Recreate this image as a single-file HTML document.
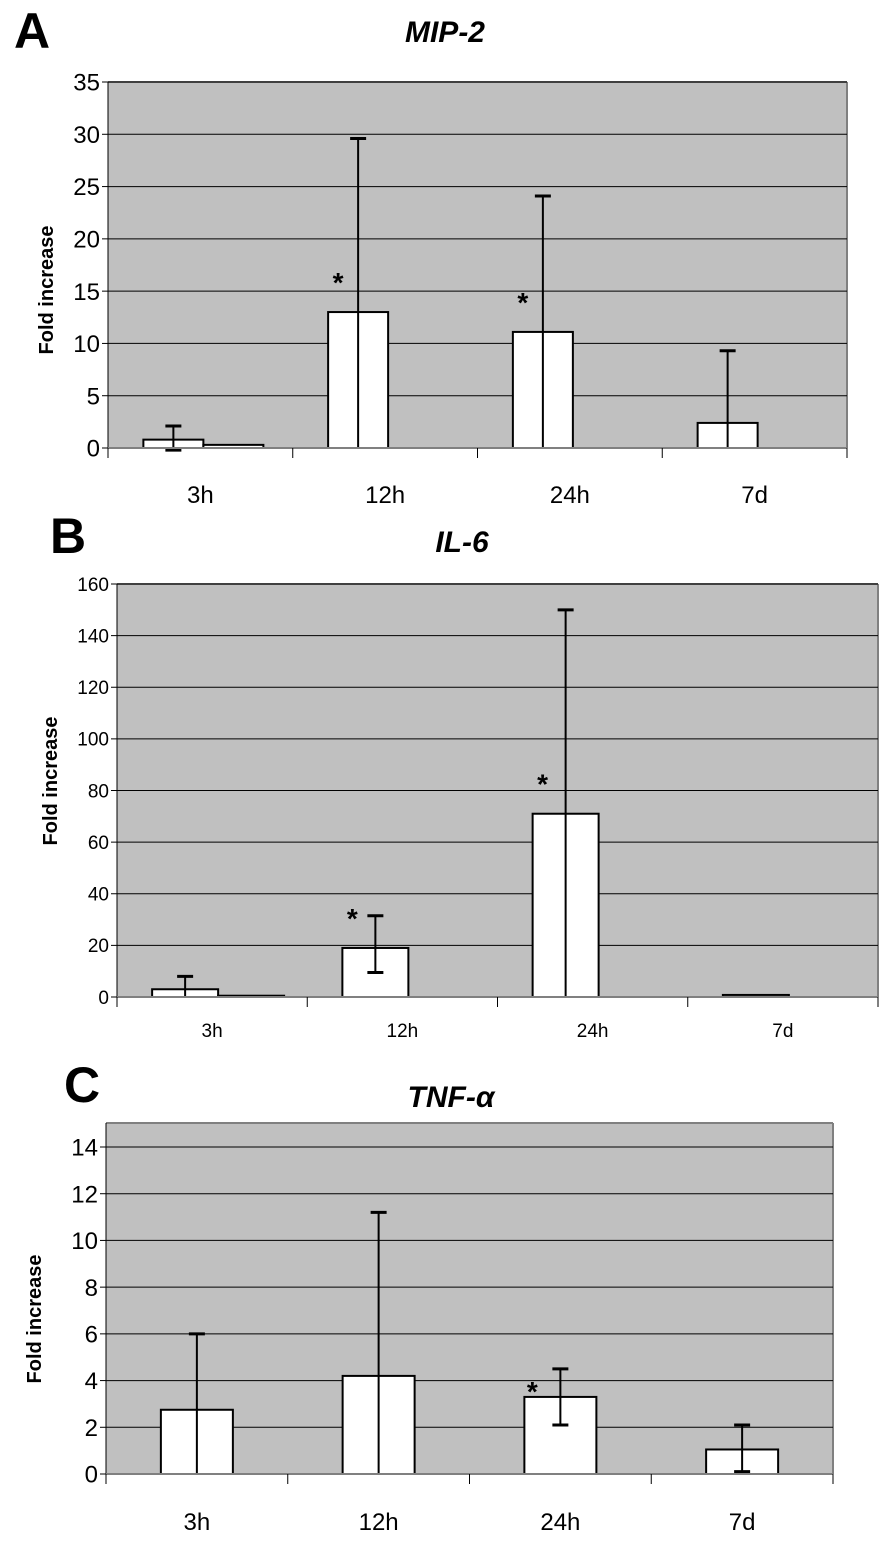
<!DOCTYPE html>
<html><head><meta charset="utf-8">
<style>
html,body{margin:0;padding:0;background:#fff;}
svg{display:block;font-family:"Liberation Sans Narrow","Liberation Sans",sans-serif;}
</style></head>
<body>
<svg id="fig" width="880" height="1547" viewBox="0 0 880 1547" xmlns="http://www.w3.org/2000/svg"></svg>
<script>
const categories = ["3h","12h","24h","7d"];
// Panel A: MIP-2
const mipValues = [0.8, 13, 11.1, 2.4];
const mipErrUp = [2.1, 29.6, 24.1, 9.3];
const mipErrLow = [-0.2, null, null, null];
const mipSecond = [0.3, 0, 0, 0];
const mipStars = [false, true, true, false];
const mipTicks = [0,5,10,15,20,25,30,35];
// Panel B: IL-6
const il6Values = [3, 19, 71, 0];
const il6ErrUp = [8, 31.5, 150, null];
const il6ErrLow = [null, 9.5, null, null];
const il6Second = [0.5, 0, 0, 0.8];
const il6Stars = [false, true, true, false];
const il6Ticks = [0,20,40,60,80,100,120,140,160];
// Panel C: TNF-alpha
const tnfValues = [2.75, 4.2, 3.3, 1.05];
const tnfErrUp = [6.0, 11.2, 4.5, 2.1];
const tnfErrLow = [null, null, 2.1, 0.1];
const tnfSecond = [0, 0, 0, 0];
const tnfStars = [false, false, true, false];
const tnfTicks = [0,2,4,6,8,10,12,14];

const NS = "http://www.w3.org/2000/svg";
const svg = document.getElementById("fig");
function mk(tag, attrs, parent, text){
  const e = document.createElementNS(NS, tag);
  for (const k in attrs) e.setAttribute(k, attrs[k]);
  if (text !== undefined) e.textContent = text;
  (parent || svg).appendChild(e);
  return e;
}

function panel(cfg){
  const g = mk("g", {});
  
  
  const y = v => cfg.y0 - (v / cfg.ymax) * (cfg.y0 - cfg.yTop);
  const plotTop = cfg.plotTop;
  const bg = mk("rect", {x:cfg.left, y:plotTop, width:cfg.right-cfg.left, height:cfg.y0-plotTop, fill:"#c0c0c0"}, g);
  
  
  mk("line", {x1:cfg.left, y1:plotTop, x2:cfg.right, y2:plotTop, stroke:"#808080", "stroke-width":2}, g);
  mk("line", {x1:cfg.right, y1:plotTop, x2:cfg.right, y2:cfg.y0, stroke:"#808080", "stroke-width":2}, g);
  cfg.ticks.forEach(t => {
    const yy = y(t);
    if (t > 0) {
      const gl = mk("line", {x1:cfg.left, y1:yy, x2:cfg.right, y2:yy, stroke:"#000", "stroke-width":1}, g);
      
      
    }
    mk("line", {x1:cfg.left-6, y1:yy, x2:cfg.left, y2:yy, stroke:"#000", "stroke-width":1}, g);
    const tl = mk("text", {x:cfg.left-8, y:yy+cfg.tickFs*0.36, "text-anchor":"end", "font-size":cfg.tickFs, fill:"#000"}, g, String(t));
    
    
  });
  const step = (cfg.right - cfg.left) / categories.length;
  categories.forEach((c, i) => {
    const cx = cfg.left + step * (i + 0.5);
    const bx = cx + cfg.barOff;
    const v = cfg.values[i];
    if (v > 0) {
      const b = mk("rect", {x:bx, y:y(v), width:cfg.barW, height:cfg.y0-y(v), fill:"#fff", stroke:"#000", "stroke-width":2}, g);
      
      
    }
    const s2 = cfg.second[i];
    if (s2 > 0) {
      const x2 = (v > 0) ? bx + cfg.barW : bx;
      const b2 = mk("rect", {x:x2, y:y(s2), width:cfg.barW, height:Math.max(cfg.y0-y(s2),1), fill:"#fff", stroke:"#000", "stroke-width":2}, g);
      
      
    }
    const ex = bx + cfg.barW / 2;
    if (cfg.errUp[i] != null) {
      const lo = cfg.errLow[i] != null ? cfg.errLow[i] : 0;
      const el = mk("line", {x1:ex, y1:y(cfg.errUp[i]), x2:ex, y2:y(lo), stroke:"#000", "stroke-width":2}, g);
      
      
      mk("line", {x1:ex-8, y1:y(cfg.errUp[i]), x2:ex+8, y2:y(cfg.errUp[i]), stroke:"#000", "stroke-width":3}, g);
      if (cfg.errLow[i] != null) mk("line", {x1:ex-8, y1:y(lo), x2:ex+8, y2:y(lo), stroke:"#000", "stroke-width":3}, g);
    }
    if (cfg.stars[i]) {
      const st = mk("text", {x:bx + cfg.starDx, y:y(v) - cfg.starGap, "text-anchor":"middle", "font-size":28, "font-weight":"bold", "font-family":"Liberation Sans, sans-serif", fill:"#000"}, g, "*");
      
      
    }
    const xl = mk("text", {x:cx, y:cfg.xLabelY, "text-anchor":"middle", "font-size":cfg.xFs, fill:"#000"}, g, c);
    
    
  });
  mk("line", {x1:cfg.left, y1:plotTop, x2:cfg.left, y2:cfg.y0, stroke:"#000", "stroke-width":1}, g);
  mk("line", {x1:cfg.left, y1:cfg.y0, x2:cfg.right, y2:cfg.y0, stroke:"#808080", "stroke-width":2}, g);
  for (let k = 0; k <= categories.length; k++) {
    const xx = cfg.left + step * k;
    mk("line", {x1:xx, y1:cfg.y0, x2:xx, y2:cfg.y0+10, stroke:"#000", "stroke-width":1}, g);
  }
  const yt = mk("text", {x:0, y:0, transform:`translate(${cfg.yTitleX},${cfg.yTitleY}) rotate(-90)`, "text-anchor":"middle", "font-size":20, "font-weight":"bold", "font-family":"Liberation Sans, sans-serif", fill:"#000"}, g, "Fold increase");
  
  
  const tt = mk("text", {x:cfg.titleX, y:cfg.titleY, "text-anchor":"middle", "font-size":30, "font-weight":"bold", "font-style":"italic", fill:"#000"}, g, cfg.title);
  
  
  const pl = mk("text", {x:cfg.letterX, y:cfg.letterY, "font-size":50, "font-weight":"bold", "font-family":"Liberation Sans, sans-serif", fill:"#000"}, g, cfg.letter);
  
  
}

panel({name:"panel-a-mip2", title:"MIP-2", letter:"A", letterX:14, letterY:48, titleX:445, titleY:42,
  left:108, right:847, y0:448, yTop:82, ymax:35, plotTop:82, ticks:mipTicks, tickFs:24,
  values:mipValues, errUp:mipErrUp, errLow:mipErrLow, second:mipSecond, stars:mipStars,
  barW:60, barOff:-57, starDx:10, starGap:20, xLabelY:503, xFs:24, yTitleX:53, yTitleY:290});
panel({name:"panel-b-il6", title:"IL-6", letter:"B", letterX:50, letterY:553, titleX:462, titleY:552,
  left:117, right:878, y0:997, yTop:584, ymax:160, plotTop:584, ticks:il6Ticks, tickFs:19,
  values:il6Values, errUp:il6ErrUp, errLow:il6ErrLow, second:il6Second, stars:il6Stars,
  barW:66, barOff:-60, starDx:10, starGap:20, xLabelY:1037, xFs:19, yTitleX:57, yTitleY:781});
panel({name:"panel-c-tnf", title:"TNF-\u03b1", letter:"C", letterX:64, letterY:1102, titleX:451, titleY:1107,
  left:106, right:833, y0:1474, yTop:1147, ymax:14, plotTop:1123, ticks:tnfTicks, tickFs:24,
  values:tnfValues, errUp:tnfErrUp, errLow:tnfErrLow, second:tnfSecond, stars:tnfStars,
  barW:72, barOff:-36, starDx:8, starGap:-4, xLabelY:1530, xFs:24, yTitleX:41, yTitleY:1319});
</script>
</body></html>
